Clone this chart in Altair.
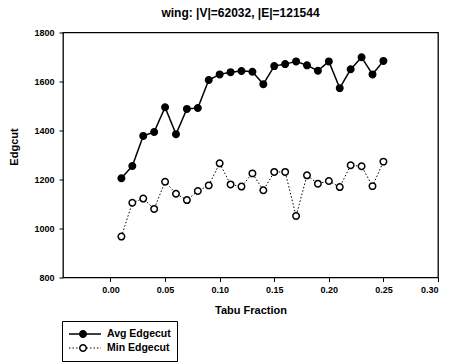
import altair as alt
import pandas as pd

tabu = [0.01, 0.02, 0.03, 0.04, 0.05, 0.06, 0.07, 0.08, 0.09, 0.10,
        0.11, 0.12, 0.13, 0.14, 0.15, 0.16, 0.17, 0.18, 0.19, 0.20,
        0.21, 0.22, 0.23, 0.24, 0.25]
avg_edgecut = [1205, 1255, 1378, 1394, 1495, 1385, 1488, 1492, 1606, 1629,
               1638, 1643, 1640, 1589, 1663, 1671, 1682, 1666, 1644, 1682,
               1573, 1650, 1699, 1629, 1684]
min_edgecut = [967, 1105, 1122, 1080, 1191, 1142, 1116, 1153, 1176, 1266,
               1180, 1171, 1225, 1156, 1231, 1231, 1051, 1217, 1183, 1194,
               1169, 1258, 1254, 1173, 1273]
series_names = ["Avg Edgecut", "Min Edgecut"]
x_ticks = [0.00, 0.05, 0.10, 0.15, 0.20, 0.25, 0.30]
y_ticks = [800, 1000, 1200, 1400, 1600, 1800]

rows = []
for name, vals in zip(series_names, [avg_edgecut, min_edgecut]):
    for t, v in zip(tabu, vals):
        rows.append({"tabu": t, "edgecut": v, "series": name, "marker": name})
df = pd.DataFrame(rows)

FONT = "Liberation Sans"

x = alt.X("tabu:Q", title="Tabu Fraction",
          scale=alt.Scale(domain=[-0.0435, 0.30], nice=False, zero=False),
          axis=alt.Axis(values=x_ticks, format=".2f", labelPadding=4,
                        titlePadding=10))
y = alt.Y("edgecut:Q", title="Edgcut",
          scale=alt.Scale(domain=[800, 1800], nice=False, zero=False),
          axis=alt.Axis(values=y_ticks, format="d", labelPadding=5,
                        titlePadding=14, titleY=114))

lines = alt.Chart(df).mark_line(color="black").encode(
    x=x, y=y,
    detail="series:N",
    strokeDash=alt.StrokeDash(
        "series:N",
        scale=alt.Scale(domain=series_names, range=[[1, 0], [1.5, 2]]),
        legend=alt.Legend(
            orient="none", legendX=-1, legendY=288.5, title=None,
            symbolType="stroke", symbolSize=1024, symbolStrokeColor="black",
            symbolStrokeWidth=1.3, clipHeight=14, labelFont=FONT,
            labelFontSize=10.5, labelFontWeight="bold", labelColor="black",
            labelOffset=5, padding=6, strokeColor="black", fillColor="white",
            rowPadding=0, symbolOffset=0)),
    strokeWidth=alt.StrokeWidth(
        "series:N", scale=alt.Scale(domain=series_names, range=[1.5, 1.0]),
        legend=None),
)

points = alt.Chart(df).mark_point(
    shape="circle", filled=True, stroke="black", strokeWidth=1.5,
    size=42, opacity=1).encode(
    x=x, y=y,
    fill=alt.Fill(
        "marker:N",
        scale=alt.Scale(range=["black", "white"]),
        legend=alt.Legend(
            orient="none", legendX=9, legendY=288.5, title=None,
            symbolType="circle", symbolSize=42, symbolStrokeColor="black",
            symbolStrokeWidth=1.5, clipHeight=14, labelExpr="''",
            labelFontSize=10, padding=6, rowPadding=0, symbolOffset=0,
            symbolOpacity=1)),
)

chart = alt.layer(lines, points).properties(
    width=375, height=245,
    padding={"left": 63, "top": 32.5, "right": 12, "bottom": 84.5},
    autosize=alt.AutoSizeParams(type="none"),
    background="white",
    title=alt.Title("wing: |V|=62032, |E|=121544", font=FONT, fontSize=12,
                    fontWeight="bold", color="black", anchor="middle",
                    dx=-10, offset=9),
).configure_view(
    stroke="black", strokeWidth=1.3
).configure_axis(
    domain=False, grid=False, tickColor="black", tickSize=4, tickWidth=1,
    labelFont=FONT, labelFontSize=9, labelFontWeight="bold",
    labelColor="black", titleFont=FONT, titleFontSize=11,
    titleFontWeight="bold", titleColor="black"
)

chart.save("out.html", embed_options={"renderer": "svg", "actions": False})
